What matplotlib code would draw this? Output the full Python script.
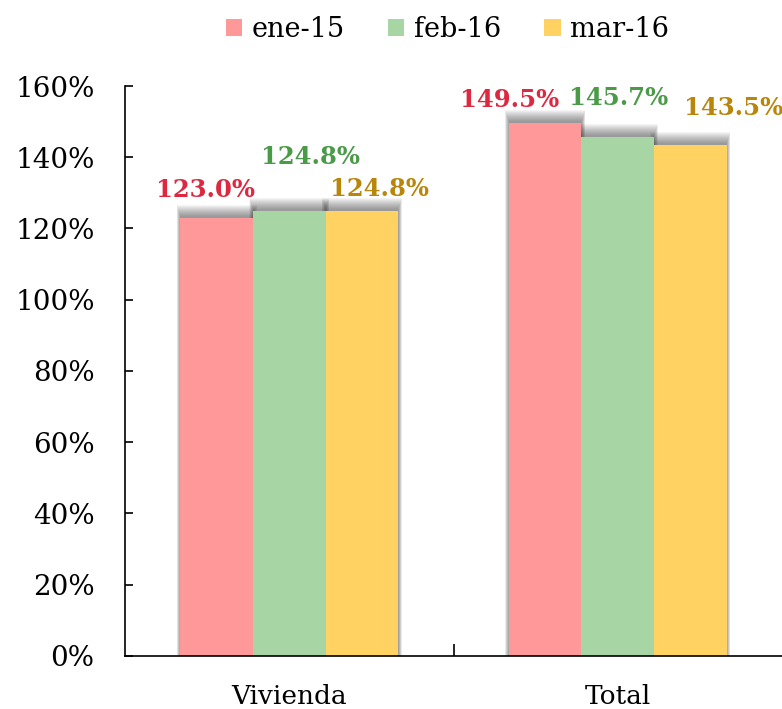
import matplotlib.pyplot as plt
import numpy as np
from matplotlib.patches import Patch, Rectangle

plt.rcParams['font.family'] = ['DejaVu Serif']

categorias = ['Vivienda', 'Total']
series = ['ene-15', 'feb-16', 'mar-16']
ene15 = [1.230, 1.495]
feb16 = [1.248, 1.457]
mar16 = [1.248, 1.435]
valores = [ene15, feb16, mar16]

colores = ['#FF9999', '#A8D5A4', '#FFD262']
colores_txt = ['#DC2840', '#4A9A48', '#B8860B']

# desplazamiento de cada etiqueta (pixeles) respecto al tope de la barra
offsets = [[(-11, 28), (-36, 23)],
           [(21, 54), (1, 39)],
           [(18, 22), (43, 37)]]

fig = plt.figure(figsize=(7.82, 7.09), dpi=100)
ax = fig.add_axes([0.160, 0.0748, 0.840, 0.8039])

x = np.arange(len(categorias))
ancho = 0.221
px_x = 2.0 / 660
px_y = 1.6 / 570

for i, serie in enumerate(valores):
    pos = x + (i - 1) * ancho
    # sombra difusa sobre cada barra
    for p, v in zip(pos, serie):
        for s in range(12):
            ax.add_patch(Rectangle((p - ancho / 2 - s * px_x * 0.35, 0),
                                   ancho + 2 * s * px_x * 0.35,
                                   v + 2 * px_y + s * px_y,
                                   facecolor='#303030', alpha=0.05,
                                   linewidth=0, zorder=1))
    ax.bar(pos, serie, width=ancho, color=colores[i], zorder=2)
    for j, (p, v) in enumerate(zip(pos, serie)):
        ax.annotate(f'{v * 100:.1f}%', (p, v), xytext=offsets[i][j],
                    textcoords='offset pixels', ha='center', va='center',
                    fontsize=17.5, fontweight='bold', color=colores_txt[i],
                    zorder=3)

ax.set_xlim(-0.5, 1.5)
ax.set_ylim(0, 1.6)
ax.set_yticks(np.arange(0, 1.61, 0.2))
ax.set_yticklabels([f'{int(round(t * 100))}%' for t in np.arange(0, 1.61, 0.2)])
ax.set_xticks(x)
ax.set_xticklabels(categorias)
ax.set_xticks([0.5], minor=True)
ax.tick_params(axis='x', which='major', length=0, pad=20, labelsize=19)
ax.tick_params(axis='x', which='minor', direction='in', length=9, width=1.2)
ax.tick_params(axis='y', direction='in', length=6, width=1.2, pad=22,
               labelsize=20)

for lado in ['top', 'right']:
    ax.spines[lado].set_visible(False)
for lado in ['left', 'bottom']:
    ax.spines[lado].set_linewidth(1.2)

handles = [Patch(facecolor=c, label=s) for c, s in zip(colores, series)]
fig.legend(handles=handles, loc='upper center', bbox_to_anchor=(0.572, 1.012),
           ncol=3, frameon=False, fontsize=19.5, handlelength=0.6,
           handleheight=0.6, handletextpad=0.35, columnspacing=1.6)

fig.savefig('out.png', dpi=100)
